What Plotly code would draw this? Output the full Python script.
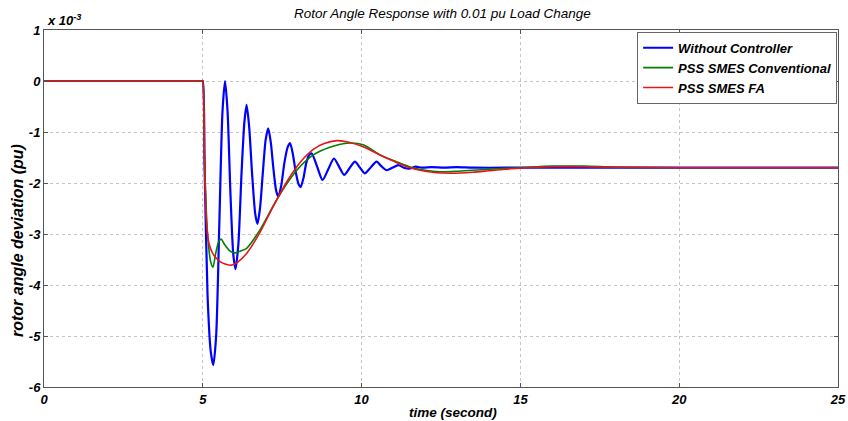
import plotly.graph_objects as go

# time (s) and rotor angle deviation (x 1e-3 pu)
t_without = [0, 1, 2, 3, 4, 4.6, 4.9, 4.98, 5.0, 5.06, 5.15, 5.25, 5.33, 5.42, 5.52, 5.62, 5.70, 5.78, 5.87, 5.96, 6.03,
             6.12, 6.22, 6.31, 6.38, 6.46, 6.55, 6.65, 6.72, 6.80, 6.89, 6.98, 7.06, 7.14,
             7.22, 7.31, 7.38, 7.47, 7.57, 7.67, 7.75, 7.84, 7.93, 8.02, 8.08, 8.17, 8.26,
             8.35, 8.43, 8.60, 8.77, 8.95, 9.13, 9.29, 9.45, 9.62, 9.79, 9.95, 10.10, 10.28,
             10.47, 10.62, 10.79, 10.97, 11.16, 11.33, 11.50, 11.70, 11.90, 12.2, 12.6, 13.0,
             13.5, 14.5, 16, 18, 20, 22, 25]
v_without = [0, 0, 0, 0, 0, 0, 0, 0, 0, -1.8, -4.2, -5.3, -5.57, -5.0, -2.8, -0.6, 0.0, -0.6, -2.2, -3.4, -3.69,
             -3.2, -1.8, -0.8, -0.47, -0.9, -1.8, -2.6, -2.80, -2.5, -1.8, -1.15, -0.93, -1.2,
             -1.7, -2.15, -2.27, -2.05, -1.6, -1.3, -1.22, -1.45, -1.8, -2.03, -2.08, -1.9, -1.6,
             -1.45, -1.42, -1.68, -1.94, -1.73, -1.52, -1.68, -1.84, -1.71, -1.58, -1.70, -1.81, -1.70,
             -1.58, -1.67, -1.75, -1.70, -1.65, -1.70, -1.72, -1.68, -1.70, -1.69, -1.70, -1.69,
             -1.70, -1.70, -1.70, -1.70, -1.70, -1.70, -1.70]

t_conv = [0, 1, 2, 3, 4, 4.6, 4.9, 4.98, 5.0, 5.05, 5.15, 5.25, 5.32, 5.40, 5.50, 5.58, 5.68, 5.85, 6.0, 6.2, 6.38,
          6.8, 7.38, 7.96, 8.48, 9.0, 9.53, 10.05, 10.58, 11.0, 11.5, 12.0, 12.47, 13.0,
          13.5, 14.0, 15.0, 16.0, 17.0, 18.0, 20.0, 22.0, 25.0]
v_conv = [0, 0, 0, 0, 0, 0, 0, 0, 0, -1.5, -3.0, -3.55, -3.65, -3.4, -3.15, -3.1, -3.2, -3.33, -3.37, -3.33, -3.28,
          -2.92, -2.27, -1.75, -1.45, -1.30, -1.22, -1.25, -1.45, -1.56, -1.68, -1.75, -1.78, -1.77,
          -1.75, -1.73, -1.70, -1.67, -1.67, -1.69, -1.70, -1.70, -1.70]

t_fa = [0, 1, 2, 3, 4, 4.6, 4.9, 4.98, 5.0, 5.05, 5.12, 5.2, 5.33, 5.5, 5.7, 5.9, 6.1, 6.38, 6.8, 7.1, 7.38, 7.65,
        7.96, 8.2, 8.48, 8.8, 9.22, 9.6, 10.05, 10.58, 11.0, 11.42, 12.0, 12.78, 13.5,
        14.0, 14.5, 15.0, 15.5, 16.0, 17.0, 18.0, 20.0, 22.0, 25.0]
v_fa = [0, 0, 0, 0, 0, 0, 0, 0, 0, -1.5, -2.8, -3.2, -3.40, -3.52, -3.59, -3.61, -3.55, -3.38, -2.97, -2.6, -2.27, -1.97,
        -1.68, -1.5, -1.34, -1.23, -1.17, -1.2, -1.29, -1.45, -1.57, -1.68, -1.77, -1.81, -1.79,
        -1.76, -1.73, -1.71, -1.69, -1.68, -1.68, -1.69, -1.70, -1.70, -1.70]

x_ticks = [0, 5, 10, 15, 20, 25]
y_ticks = [1, 0, -1, -2, -3, -4, -5, -6]

FONT = "Liberation Sans, Arial, sans-serif"
W, H = 848, 421
L, R, T, B = 44, 10, 30, 34
PW, PH = W - L - R, H - T - B

fig = go.Figure()
fig.add_trace(go.Scatter(x=t_without, y=v_without, mode="lines", name="Without Controller",
                         line=dict(color="#0000ff", width=2.2, shape="spline", smoothing=0.7)))
fig.add_trace(go.Scatter(x=t_conv, y=v_conv, mode="lines", name="PSS SMES Conventional",
                         line=dict(color="#008000", width=1.6, shape="spline", smoothing=0.7)))
fig.add_trace(go.Scatter(x=t_fa, y=v_fa, mode="lines", name="PSS SMES FA",
                         line=dict(color="#e8141a", width=1.6, shape="spline", smoothing=0.7)))

axis_common = dict(
    showline=True, mirror="ticks", linecolor="#555555", linewidth=1,
    showgrid=True, gridcolor="#c4c4c4", griddash="dot", gridwidth=1,
    ticks="inside", ticklen=4, tickcolor="#555555", zeroline=False, automargin=False,
    tickfont=dict(family=FONT, size=13, color="black", weight="bold", style="italic"),
)

fig.update_layout(
    width=W, height=H,
    margin=dict(l=L, r=R, t=T, b=B),
    paper_bgcolor="white", plot_bgcolor="white",
    xaxis=dict(range=[0, 25], tickvals=x_ticks, ticktext=[str(v) for v in x_ticks], **axis_common),
    yaxis=dict(range=[-6, 1], tickvals=y_ticks, ticktext=[str(v) for v in y_ticks], **axis_common),
    legend=dict(x=0.747, y=0.995, xanchor="left", yanchor="top",
                bgcolor="white", bordercolor="#666666", borderwidth=1,
                font=dict(family=FONT, size=13, color="black", style="italic", weight="bold"),
                tracegroupgap=0, itemwidth=30),
    showlegend=True,
)

def px_x(px):
    return (px - L) / PW

def px_y(py):
    return (H - B - py) / PH

# title
fig.add_annotation(xref="paper", yref="paper", x=px_x(442), y=px_y(14), xanchor="center", yanchor="middle",
                   text="Rotor Angle Response with 0.01 pu Load Change", showarrow=False,
                   font=dict(family=FONT, size=13.5, color="black", style="italic"))
# x axis label
fig.add_annotation(xref="paper", yref="paper", x=px_x(453), y=px_y(412), xanchor="center", yanchor="middle",
                   text="time (second)", showarrow=False,
                   font=dict(family=FONT, size=13.5, color="black", style="italic", weight="bold"))
# y axis label
fig.add_annotation(xref="paper", yref="paper", x=px_x(17), y=px_y(241), xanchor="center", yanchor="middle",
                   text="rotor angle deviation (pu)", showarrow=False, textangle=-90,
                   font=dict(family=FONT, size=16, color="black", style="italic", weight="bold"))
# exponent
fig.add_annotation(xref="paper", yref="paper", x=px_x(45), y=px_y(20), xanchor="left", yanchor="middle",
                   text="x 10<sup>-3</sup>", showarrow=False,
                   font=dict(family=FONT, size=13, color="black", style="italic", weight="bold"))

fig.write_html("out.html", config={"displayModeBar": False},
               post_script="document.body.style.margin='0px';")
